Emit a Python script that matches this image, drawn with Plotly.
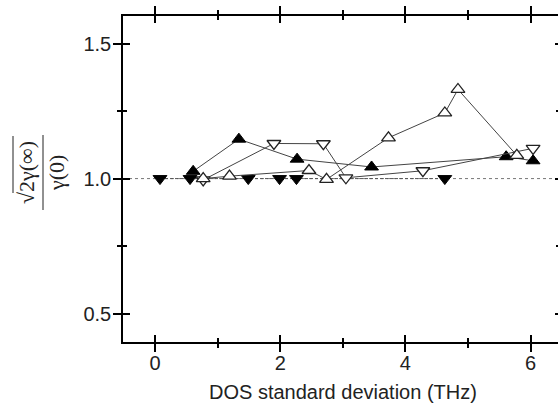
import plotly.graph_objects as go

# Filled down-triangles
dn_fill_x = [0.08, 0.56, 1.49, 1.99, 2.26, 4.63]
dn_fill_y = [1.0, 1.0, 1.0, 1.0, 1.0, 1.0]

# Filled up-triangles
up_fill_x = [0.61, 1.34, 2.27, 3.46, 5.61, 6.04]
up_fill_y = [1.027, 1.146, 1.072, 1.043, 1.081, 1.066]

# Open down-triangles
dn_open_x = [0.77, 1.90, 2.69, 3.05, 4.28, 6.04]
dn_open_y = [0.995, 1.130, 1.129, 1.003, 1.029, 1.112]

# Open up-triangles
up_open_x = [0.77, 1.19, 2.46, 2.74, 3.73, 4.63, 4.84, 5.78]
up_open_y = [1.000, 1.009, 1.030, 0.997, 1.151, 1.243, 1.330, 1.086]

x_range = [-0.511, 6.438]
y_range = [0.395, 1.602]
x_ticks = [0, 2, 4, 6]
y_ticks = [0.5, 1.0, 1.5]

LINE = dict(color="#444", width=1)
MS = 12

fig = go.Figure()

fig.add_trace(go.Scatter(
    x=dn_fill_x, y=dn_fill_y, mode="lines+markers",
    line=dict(color="#555", width=1, dash="3px,2px"),
    marker=dict(symbol="triangle-down", size=MS, color="black",
                line=dict(color="black", width=1)),
    showlegend=False, hoverinfo="skip"))

fig.add_trace(go.Scatter(
    x=up_fill_x, y=up_fill_y, mode="lines+markers", line=LINE,
    marker=dict(symbol="triangle-up", size=MS, color="black",
                line=dict(color="black", width=1)),
    showlegend=False, hoverinfo="skip"))

fig.add_trace(go.Scatter(
    x=dn_open_x, y=dn_open_y, mode="lines+markers", line=LINE,
    marker=dict(symbol="triangle-down", size=MS, color="white",
                line=dict(color="#222", width=1.3)),
    showlegend=False, hoverinfo="skip"))

fig.add_trace(go.Scatter(
    x=up_open_x, y=up_open_y, mode="lines+markers", line=LINE,
    marker=dict(symbol="triangle-up", size=MS, color="white",
                line=dict(color="#222", width=1.3)),
    showlegend=False, hoverinfo="skip"))

# empty traces that bring the overlay axes (inward ticks) to life
fig.add_trace(go.Scatter(x=[None], y=[None], xaxis="x2", yaxis="y",
                         showlegend=False, hoverinfo="skip"))
fig.add_trace(go.Scatter(x=[None], y=[None], xaxis="x", yaxis="y2",
                         showlegend=False, hoverinfo="skip"))
fig.add_trace(go.Scatter(x=[None], y=[None], xaxis="x", yaxis="y3",
                         showlegend=False, hoverinfo="skip"))

tickfont = dict(family="Liberation Sans, Arial, sans-serif", size=20, color="#222")
AX = dict(showgrid=False, zeroline=False, linecolor="black", linewidth=1.5,
          tickcolor="black", tickwidth=1.5)

fig.update_layout(
    width=558, height=404,
    margin=dict(l=123, r=0, t=16, b=62),
    paper_bgcolor="white", plot_bgcolor="white",
    xaxis=dict(**AX, range=x_range, showline=True, mirror="ticks",
               ticks="outside", ticklen=8, tickvals=x_ticks,
               ticktext=[str(v) for v in x_ticks], tickfont=tickfont,
               ticklabelstandoff=-6,
               minor=dict(ticks="outside", ticklen=4, dtick=1, tick0=0,
                          tickcolor="black", tickwidth=1.5, showgrid=False)),
    xaxis2=dict(**AX, range=x_range, overlaying="x", anchor="y", side="bottom",
                showline=True, mirror="ticks", ticks="inside", ticklen=7,
                tickvals=x_ticks, showticklabels=False,
                minor=dict(ticks="inside", ticklen=4, dtick=1, tick0=0,
                           tickcolor="black", tickwidth=1.5, showgrid=False)),
    yaxis=dict(**AX, range=y_range, showline=True, mirror=False,
               ticks="outside", ticklen=8, tickvals=y_ticks,
               ticktext=["0.5", "1.0", "1.5"], tickfont=tickfont,
               ticklabelstandoff=-2,
               minor=dict(ticks="outside", ticklen=4, dtick=0.25, tick0=0.5,
                          tickcolor="black", tickwidth=1.5, showgrid=False)),
    yaxis2=dict(**AX, range=y_range, overlaying="y", anchor="x", side="left",
                showline=True, ticks="inside", ticklen=7, tickvals=y_ticks,
                showticklabels=False,
                minor=dict(ticks="inside", ticklen=4, dtick=0.25, tick0=0.5,
                           tickcolor="black", tickwidth=1.5, showgrid=False)),
    yaxis3=dict(**AX, range=y_range, overlaying="y", anchor="x", side="right",
                showline=False, ticks="inside", ticklen=3, tickvals=y_ticks,
                showticklabels=False,
                minor=dict(ticks="inside", ticklen=2, dtick=0.25, tick0=0.5,
                           tickcolor="black", tickwidth=1.5, showgrid=False)),
)

# reference level at 1.0
fig.add_shape(type="line", xref="paper", yref="y", x0=0, x1=1, y0=1, y1=1,
              line=dict(color="#777", width=1, dash="dot"), layer="below")

# x-axis title
fig.add_annotation(text="DOS standard deviation (THz)", xref="paper", yref="paper",
                   x=0.5057, y=0, xanchor="center", yanchor="middle", yshift=-50,
                   showarrow=False,
                   font=dict(family="Liberation Sans, Arial, sans-serif", size=20,
                             color="#222"))

# y-axis title: sqrt(2γ(∞)) / γ(0), written vertically
serif = dict(family="Liberation Serif, Times New Roman, serif", size=22, color="#222")
y_mid = (342 - 173) / 326
fig.add_annotation(text="√2γ(∞)", xref="paper", yref="paper", x=0, y=y_mid,
                   xshift=-97, yshift=0, xanchor="center", yanchor="middle",
                   textangle=-90, showarrow=False, font=serif)
fig.add_annotation(text="γ(0)", xref="paper", yref="paper", x=0, y=y_mid,
                   xshift=-67, xanchor="center", yanchor="middle",
                   textangle=-90, showarrow=False, font=serif)
# fraction bar
fig.add_shape(type="line", xref="paper", yref="paper", xsizemode="pixel",
              ysizemode="pixel", xanchor=0, yanchor=y_mid, x0=-80, x1=-80,
              y0=-37, y1=38, line=dict(color="#222", width=1))
# radical overbar
fig.add_shape(type="line", xref="paper", yref="paper", xsizemode="pixel",
              ysizemode="pixel", xanchor=0, yanchor=y_mid, x0=-110, x1=-110,
              y0=-20, y1=37, line=dict(color="#222", width=1))

fig.write_html("out.html")
